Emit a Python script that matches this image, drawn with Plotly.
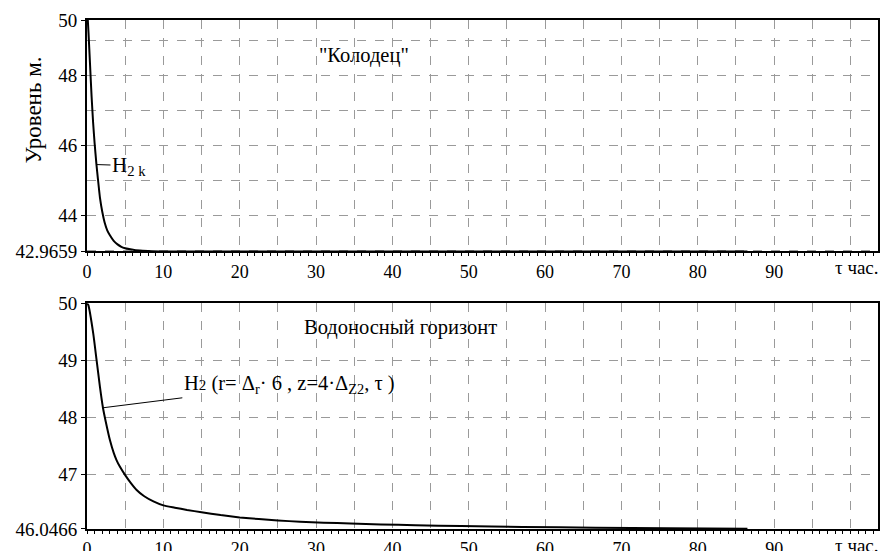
import plotly.graph_objects as go
from plotly.subplots import make_subplots

# Well ("Колодец") water level vs time, hours
tau_well = [0, 0.2, 0.4, 0.6, 0.8, 1.0, 1.23, 1.45, 1.7, 2.0, 2.3, 2.65, 3.0, 3.5, 4.0,
            4.5, 5.0, 5.5, 6.2, 7.3, 8.5, 10, 12, 15, 20, 30, 40, 50, 60, 70, 80, 86.5]
h_well = [50, 49.2, 48.3, 47.4, 46.65, 46.05, 45.47, 45.0, 44.5, 44.1, 43.8, 43.57,
          43.43, 43.27, 43.17, 43.1, 43.06, 43.035, 43.01, 42.99, 42.975, 42.969,
          42.967, 42.966, 42.9659, 42.9659, 42.9659, 42.9659, 42.9659, 42.9659,
          42.9659, 42.9659]

# Aquifer level at r = 6·Δr, z = 4·Δz2
tau_aq = [0, 0.17, 0.82, 1.26, 1.7, 2.09, 2.45, 3.01, 3.5, 3.88, 4.3, 5.0, 5.7, 6.5,
          7.5, 8.7, 10, 11.5, 13.1, 15, 17.5, 20, 22.5, 25, 27.9, 31, 34.5, 38.5, 43,
          49, 57, 66.6, 76, 86.5]
h_aq = [50, 49.97, 49.47, 49.0, 48.53, 48.17, 47.93, 47.6, 47.38, 47.25, 47.14, 46.99,
        46.86, 46.73, 46.62, 46.53, 46.46, 46.42, 46.38, 46.34, 46.29, 46.25, 46.22,
        46.195, 46.175, 46.158, 46.142, 46.127, 46.113, 46.098, 46.083, 46.07, 46.06,
        46.052]

x_tickvals = list(range(0, 101, 5))
x_ticktext = [str(v) if v % 10 == 0 and v < 100 else "" for v in x_tickvals]

top_range = [42.9659, 49.58]
top_ticks = [42.9659, 44, 46, 48, 49.58]
top_ticktext = ["42.9659", "44", "46", "48", "50"]
bot_range = [46.0466, 50]
bot_ticks = [46.0466, 47, 48, 49, 50]
bot_ticktext = ["46.0466", "47", "48", "49", "50"]

FONT = "Liberation Serif"
GRID = "#9a9a9a"
NOTE_SIZE = 20.5

fig = make_subplots(rows=2, cols=1, vertical_spacing=0.1)
for row, xs, ys in [(1, tau_well, h_well), (2, tau_aq, h_aq)]:
    fig.add_trace(go.Scatter(x=xs, y=ys, mode="lines",
                             line=dict(color="black", width=2, shape="spline",
                                       smoothing=0.5),
                             showlegend=False), row=row, col=1)

xcommon = dict(range=[0, 103.6], tickvals=x_tickvals, ticktext=x_ticktext,
               showgrid=True, gridcolor=GRID, griddash="dash", gridwidth=1,
               ticks="outside", ticklen=3, tickcolor="black",
               minor=dict(dtick=1, tick0=0, ticks="outside", ticklen=3,
                          tickcolor="black", showgrid=False),
               showline=True, linecolor="black", linewidth=1.5, mirror=True,
               zeroline=False, automargin=False,
               tickfont=dict(family=FONT, size=18, color="black"))
ycommon = dict(showgrid=True, gridcolor=GRID, griddash="dash", gridwidth=1,
               ticks="outside", ticklen=4, tickcolor="black",
               minor=dict(dtick=1, tick0=0, showgrid=True, gridcolor=GRID,
                          griddash="dash", ticks=""),
               showline=True, linecolor="black", linewidth=2, mirror=True,
               zeroline=False, automargin=False,
               tickfont=dict(family=FONT, size=19, color="black"))

fig.update_xaxes(**xcommon)
fig.update_yaxes(**ycommon)
fig.update_yaxes(range=top_range, tickvals=top_ticks, ticktext=top_ticktext,
                 domain=[0.5452, 1.0], row=1, col=1)
fig.update_yaxes(range=bot_range, tickvals=bot_ticks, ticktext=bot_ticktext,
                 domain=[0.0, 0.4434], row=2, col=1)

note = dict(family=FONT, size=NOTE_SIZE, color="black")
fig.add_annotation(x=36.3, y=48.57, xref="x", yref="y", text='"Колодец"',
                   showarrow=False, font=note)
fig.add_annotation(x=41.05, y=49.58, xref="x2", yref="y2", text="Водоносный горизонт",
                   showarrow=False, font=note)
fig.add_annotation(x=1.23, y=45.45, xref="x", yref="y", ax=5.5, ay=45.42,
                   axref="x", ayref="y", text="H<sub>2 k</sub>",
                   showarrow=True, arrowhead=0, arrowwidth=1, arrowcolor="black",
                   font=dict(family=FONT, size=21, color="black"))
fig.add_annotation(x=2.09, y=48.17, xref="x2", yref="y2", ax=26.5, ay=48.58,
                   axref="x2", ayref="y2",
                   text="H<span style='font-size:15px'>2</span> (r= Δ<sub>r</sub>· 6 , z=4·Δ<sub>Z2</sub>, τ )",
                   showarrow=True, arrowhead=0, arrowwidth=1, arrowcolor="black",
                   font=note)
for xr, yref in [("x", "y domain"), ("x2", "y2 domain")]:
    fig.add_annotation(x=100.9, y=0, xref=xr, yref=yref, xanchor="center",
                       yanchor="top", yshift=-4, text="τ час.", showarrow=False,
                       font=dict(family=FONT, size=19, color="black"))
fig.add_annotation(x=-0.067, y=0.822, xref="paper", yref="paper", textangle=-90,
                   xanchor="center", yanchor="middle",
                   text="Уровень м.", showarrow=False,
                   font=dict(family=FONT, size=23, color="black"))

fig.update_layout(width=883, height=551, margin=dict(l=87, r=5, t=20, b=22),
                  plot_bgcolor="white", paper_bgcolor="white",
                  font=dict(family=FONT, color="black"))
fig.write_html("out.html")
